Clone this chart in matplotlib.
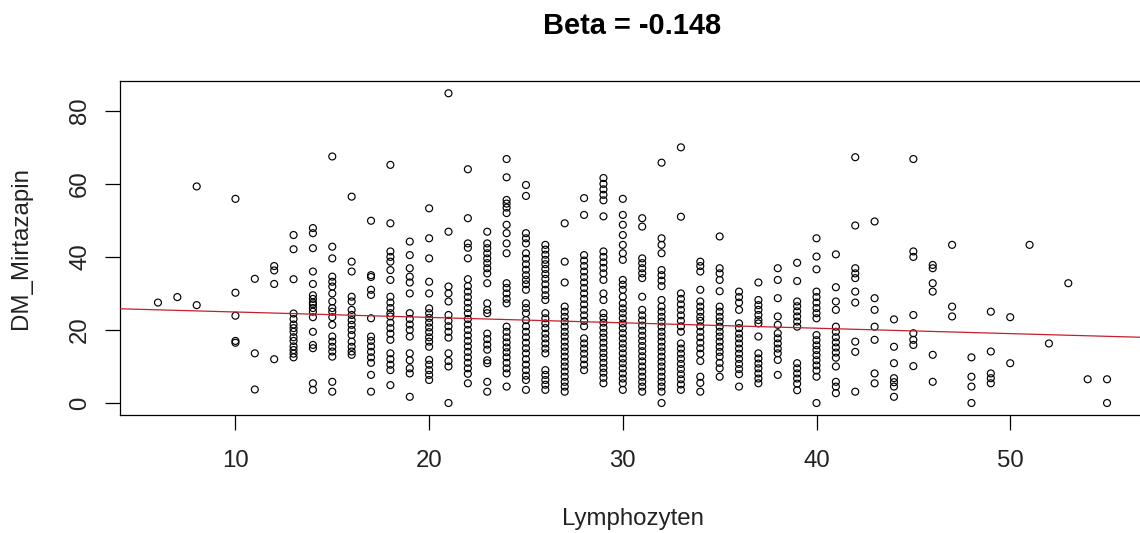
import matplotlib
matplotlib.use("Agg")
import matplotlib.pyplot as plt

plt.rcParams['font.family'] = ['Liberation Sans', 'DejaVu Sans']

# Lymphocyte percentage levels (x) and the DM_Mirtazapin values observed at each level
lymph_levels = [6, 7, 8, 10, 11, 12, 13, 14, 15, 16, 17, 18, 19, 20, 21, 22, 23, 24,
                25, 26, 27, 28, 29, 30, 31, 32, 33, 34, 35, 36, 37, 38, 39, 40, 41,
                42, 43, 44, 45, 46, 47, 48, 49, 50, 51, 52, 53, 54, 55]

mirtazapin_by_level = [
    [27.5],
    [29.0],
    [59.3, 26.8],
    [55.9, 30.2, 23.9, 17.0, 16.5],
    [34.0, 13.6, 3.7],
    [37.5, 36.3, 32.6, 12.0],
    [46.0, 42.1, 33.9, 24.5, 23.0, 21.5, 20.5, 19.5, 18.0, 17.0, 15.5, 14.5, 13.5, 12.5],
    [47.9, 46.5, 42.4, 36.0, 32.6, 29.5, 28.5, 27.5, 27.0, 26.0, 25.0, 23.5, 19.5, 15.9,
     15.0, 5.4, 3.6],
    [67.5, 42.8, 39.6, 34.6, 33.2, 31.9, 30.0, 27.8, 26.0, 25.0, 23.5, 21.4, 18.2, 16.8,
     15.4, 14.1, 12.7, 5.8, 3.1],
    [56.5, 38.7, 36.0, 29.1, 27.8, 25.5, 24.1, 22.7, 21.4, 20.0, 18.6, 16.8, 15.4, 14.1, 13.2],
    [49.9, 35.0, 34.5, 31.0, 29.6, 23.2, 18.2, 17.0, 15.5, 14.0, 12.5, 11.0, 7.7, 3.1],
    [65.2, 49.2, 41.5, 40.0, 38.7, 36.4, 33.7, 29.1, 27.5, 26.0, 24.6, 23.7, 22.0, 20.5,
     19.0, 17.3, 13.6, 12.0, 10.5, 9.0, 4.9],
    [44.2, 40.5, 36.9, 34.6, 33.0, 30.0, 24.6, 23.0, 21.5, 20.0, 18.2, 13.6, 11.7, 9.5, 8.1, 1.7],
    [53.3, 45.1, 39.6, 33.2, 30.0, 25.9, 24.6, 23.3, 22.0, 20.7, 19.4, 18.0, 16.8, 15.4,
     11.8, 10.5, 9.0, 7.7, 6.3],
    [84.8, 46.9, 31.9, 30.0, 27.8, 24.1, 22.5, 21.0, 19.5, 17.9, 13.6, 11.5, 10.0, 0.0],
    [64.0, 50.6, 43.7, 42.5, 39.6, 33.9, 32.0, 30.5, 29.0, 27.5, 26.0, 24.6, 23.0, 21.5,
     20.0, 18.5, 17.0, 15.5, 14.0, 12.5, 11.0, 9.5, 8.0, 5.4],
    [46.9, 43.7, 42.4, 41.0, 39.6, 38.3, 36.9, 35.5, 32.8, 27.3, 25.5, 24.6, 19.0, 17.5,
     16.0, 14.6, 11.7, 10.9, 5.8, 3.1],
    [66.8, 61.8, 55.6, 54.6, 53.5, 52.0, 48.8, 46.5, 43.7, 41.0, 32.8, 31.5, 30.0, 28.5,
     27.3, 20.9, 19.5, 18.0, 16.6, 15.2, 13.9, 12.5, 11.0, 9.5, 8.1, 4.5],
    [59.7, 56.7, 46.5, 45.1, 43.7, 41.0, 39.5, 38.0, 36.5, 35.0, 33.7, 32.5, 31.0, 27.3,
     26.0, 24.6, 22.7, 21.0, 19.5, 18.0, 16.5, 15.0, 13.6, 12.0, 10.5, 9.0, 7.5, 6.3, 3.6],
    [43.3, 42.0, 40.6, 39.2, 38.0, 36.7, 35.3, 34.0, 32.5, 31.0, 29.5, 28.2, 24.6, 23.2,
     21.8, 20.5, 19.0, 17.7, 16.3, 14.9, 13.6, 9.0, 7.7, 6.3, 5.0, 3.6],
    [49.2, 38.7, 33.0, 26.4, 25.0, 23.6, 22.3, 20.9, 19.5, 18.2, 16.8, 15.4, 14.1, 12.7,
     11.3, 10.0, 8.6, 7.2, 5.8, 4.5, 3.1],
    [56.1, 51.5, 40.5, 39.0, 37.5, 36.0, 34.5, 33.0, 31.5, 30.0, 28.5, 27.0, 25.5, 24.0,
     22.5, 21.0, 17.7, 16.3, 14.9, 13.5, 12.0, 10.5, 9.0],
    [61.6, 60.0, 58.5, 57.0, 55.5, 51.1, 41.5, 40.0, 38.5, 37.0, 35.5, 33.7, 30.0, 28.2,
     24.6, 23.3, 22.0, 20.6, 19.2, 17.9, 16.5, 15.1, 13.7, 12.4, 11.0, 9.6, 8.3, 6.9, 5.4],
    [55.9, 51.5, 48.8, 46.0, 43.3, 41.0, 39.2, 33.7, 32.4, 31.0, 29.1, 27.3, 25.9, 24.6,
     23.2, 21.8, 20.5, 19.1, 17.7, 16.3, 15.0, 13.6, 12.2, 10.9, 9.5, 8.1, 6.7, 5.4, 3.6],
    [50.6, 48.3, 39.6, 38.3, 36.9, 35.5, 34.2, 29.1, 25.5, 24.0, 22.6, 21.2, 19.8, 18.4,
     17.0, 15.6, 14.2, 12.8, 11.4, 10.0, 8.6, 7.2, 5.8, 4.5, 3.1],
    [65.8, 45.1, 43.3, 41.0, 36.4, 35.0, 33.5, 32.0, 28.2, 26.4, 25.0, 23.6, 22.3, 20.9,
     19.5, 18.2, 16.8, 15.4, 14.1, 12.7, 11.3, 10.0, 8.6, 7.2, 5.8, 4.5, 3.1, 0.0],
    [70.0, 51.0, 30.0, 28.5, 27.0, 25.5, 24.0, 22.5, 21.0, 19.5, 16.3, 14.9, 13.5, 12.1,
     10.7, 9.3, 7.9, 6.5, 5.1, 3.6],
    [38.7, 37.5, 36.0, 31.0, 27.8, 26.4, 25.0, 23.6, 22.5, 21.0, 19.5, 18.0, 16.5, 15.0,
     13.5, 11.5, 7.2, 5.5, 3.1],
    [45.6, 36.9, 35.5, 33.7, 30.6, 26.4, 25.0, 23.6, 22.3, 20.9, 19.5, 18.2, 16.8, 15.4,
     14.0, 12.7, 11.0, 9.5, 7.2],
    [30.5, 29.0, 27.5, 25.5, 21.8, 20.5, 19.0, 17.7, 16.3, 14.9, 13.5, 12.1, 10.7, 9.3, 7.9, 4.5],
    [33.0, 28.2, 26.8, 25.5, 24.1, 22.7, 21.8, 18.2, 13.6, 12.2, 10.8, 9.5, 8.1, 6.7, 5.4],
    [36.9, 33.7, 28.7, 23.7, 21.4, 19.1, 17.7, 16.3, 14.9, 13.6, 11.8, 7.7],
    [38.4, 33.4, 27.8, 26.5, 25.1, 23.7, 22.3, 20.9, 10.9, 9.5, 8.1, 6.7, 5.3, 3.5],
    [45.1, 40.1, 36.6, 30.5, 29.0, 27.5, 26.0, 24.6, 23.2, 18.6, 17.2, 15.8, 14.5, 13.1,
     11.7, 10.3, 8.9, 7.2, 0.0],
    [40.7, 31.7, 27.8, 25.5, 20.9, 19.5, 18.0, 16.6, 15.2, 13.8, 12.4, 10.0, 5.8, 4.5, 2.7],
    [67.3, 48.6, 36.9, 35.5, 34.2, 30.5, 27.5, 16.8, 14.0, 3.1],
    [49.7, 28.7, 25.5, 20.9, 17.3, 8.1, 5.4],
    [22.9, 15.4, 10.9, 6.8, 5.7, 4.5, 1.7],
    [66.8, 41.5, 40.0, 24.1, 19.1, 17.3, 15.9, 10.1],
    [37.8, 36.9, 32.8, 30.5, 13.2, 5.8],
    [43.3, 26.4, 23.7],
    [12.5, 7.2, 4.5, 0.0],
    [25.0, 14.1, 8.1, 6.8, 5.4],
    [23.5, 10.9],
    [43.3],
    [16.3],
    [32.8],
    [6.5],
    [6.5, 0.0],
]

# Fitted regression line
beta = -0.148
intercept = 26.4

x_ticks = [10, 20, 30, 40, 50]
y_ticks = [0, 20, 40, 60, 80]

# Flatten the per-level values into point coordinates
lymph = []
mirtazapin = []
for level, values in zip(lymph_levels, mirtazapin_by_level):
    lymph.extend([level] * len(values))
    mirtazapin.extend(values)

W, H = 1140, 533
fig = plt.figure(figsize=(W / 100, H / 100), dpi=100)
left_px, right_px, top_px, bottom_px = 120.0, 1145.0, 80.9, 415.4
ax = fig.add_axes([left_px / W, 1 - bottom_px / H,
                   (right_px - left_px) / W, (bottom_px - top_px) / H])

ax.scatter(lymph, mirtazapin, s=25, facecolors='none', edgecolors='black',
           linewidths=0.85, zorder=2)
ax.axline((0, intercept), slope=beta, color='#c3202c', linewidth=0.9, zorder=3)

# R-style extended ranges (4% padding)
xmin, xmax = min(lymph), max(lymph)
ymin, ymax = min(mirtazapin), max(mirtazapin)
xpad = 0.04 * (xmax - xmin)
ypad = 0.04 * (ymax - ymin)
ax.set_xlim(xmin - xpad, xmax + xpad)
ax.set_ylim(ymin - ypad, ymax + ypad)

ax.set_xticks(x_ticks)
ax.set_yticks(y_ticks)
ax.set_xticklabels([str(t) for t in x_ticks])
ax.set_yticklabels([str(t) for t in y_ticks], rotation=90, va='center')

ax.tick_params(axis='both', direction='out', length=10.8, width=0.9,
               labelsize=17.3, color='black', labelcolor='#222222')
ax.tick_params(axis='x', pad=14.0)
ax.tick_params(axis='y', pad=10.0)

for sp in ax.spines.values():
    sp.set_linewidth(0.9)
    sp.set_color('black')

ax.set_title(f"Beta = {beta}", fontsize=20.9, fontweight='bold', pad=33.8)

ax.set_xlabel("Lymphozyten", fontsize=17.3, color='#222222')
ax.xaxis.set_label_coords(632.5 / W, 1 - 508 / H, transform=fig.transFigure)
ax.set_ylabel("DM_Mirtazapin", fontsize=17.3, color='#222222')
ax.yaxis.set_label_coords(32.0 / W, 1 - 248 / H, transform=fig.transFigure)

fig.savefig("out.png", dpi=100)
